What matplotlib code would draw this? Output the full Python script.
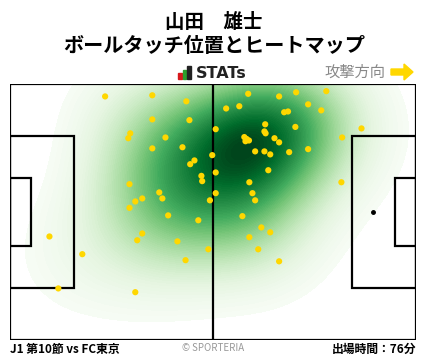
import numpy as np
import matplotlib
matplotlib.use("Agg")
import matplotlib.pyplot as plt
from matplotlib.patches import Rectangle, FancyArrow

plt.rcParams['font.family'] = ['Noto Sans CJK JP', 'DejaVu Sans']

# ball touch positions in pitch metres (105 x 68, y measured from the top touchline)
touch_x = [24.6, 36.8, 45.6, 36.8, 46.4, 31.1, 30.6, 40.2, 36.8, 44.6,
           47.7, 46.6, 52.3, 49.5, 49.7, 30.9, 38.6, 39.4, 34.2, 32.4,
           30.9, 51.7, 40.9, 48.7, 34.2, 32.9, 43.3, 51.3, 45.4, 10.2,
           18.7, 12.5, 32.4,
           61.6, 69.6, 74.0, 81.8, 55.9, 59.3, 77.1, 80.5, 70.9, 71.9,
           53.2, 66.0, 65.8, 66.1, 73.8, 60.6, 61.2, 61.8, 60.9, 68.4,
           69.6, 90.9, 85.9, 63.4, 65.8, 67.3, 72.2, 77.1, 66.8, 53.2,
           61.9, 85.7, 62.7, 63.4, 53.2, 60.1, 65.0, 67.3, 61.9, 64.2,
           69.6]
touch_y = [3.3, 3.0, 4.6, 9.4, 9.6, 13.1, 14.4, 14.2, 17.1, 16.8,
           20.3, 21.3, 18.9, 24.4, 25.8, 26.6, 28.8, 30.4, 30.4, 31.2,
           32.9, 30.9, 34.9, 36.2, 39.7, 41.5, 41.8, 43.9, 46.8, 40.5,
           45.2, 54.3, 55.3,
           2.6, 3.3, 2.2, 1.9, 6.5, 5.9, 5.4, 7.0, 7.5, 7.3,
           12.0, 10.7, 12.6, 13.1, 11.4, 14.1, 14.6, 15.0, 15.2, 14.4,
           15.5, 11.8, 14.2, 17.9, 17.9, 18.7, 18.1, 17.3, 22.9, 23.5,
           26.1, 26.1, 29.0, 30.9, 29.0, 35.1, 38.1, 39.4, 40.7, 43.9,
           47.1]

player = "山田　雄士"
subtitle = "ボールタッチ位置とヒートマップ"
match_label = "J1 第10節 vs FC東京"
minutes_label = "出場時間：76分"

PITCH_L, PITCH_W = 105.0, 68.0

fig = plt.figure(figsize=(4.28, 3.59), dpi=100)
ax = fig.add_axes([10 / 428, 19 / 359, 406 / 428, 256 / 359])
ax.set_xlim(0, PITCH_L)
ax.set_ylim(PITCH_W, 0)
ax.axis('off')

# heat map: gaussian kde of the touches
px = np.array(touch_x)
py = np.array(touch_y)
gx, gy = np.meshgrid(np.linspace(0, PITCH_L, 300), np.linspace(0, PITCH_W, 200))
bw_x, bw_y = 13.0, 12.0
dens = np.zeros_like(gx)
for x0, y0 in zip(px, py):
    dens += np.exp(-0.5 * (((gx - x0) / bw_x) ** 2 + ((gy - y0) / bw_y) ** 2))
dens /= dens.max()
dens = dens ** 1.25
thresh = 0.045
ax.contourf(gx, gy, dens, levels=np.linspace(thresh, 1.0, 80), cmap='Greens',
            zorder=1)

# pitch lines
lw = 1.6
line_kw = dict(fill=False, edgecolor='black', linewidth=lw, zorder=3)
ax.add_patch(Rectangle((0, 0), PITCH_L, PITCH_W, **line_kw))
ax.plot([PITCH_L / 2, PITCH_L / 2], [0, PITCH_W], color='black', lw=lw, zorder=3)
for x0, depth in [(0, 16.5), (PITCH_L - 16.5, 16.5)]:
    ax.add_patch(Rectangle((x0, (PITCH_W - 40.3) / 2), depth, 40.3, **line_kw))
for x0 in [0, PITCH_L - 5.5]:
    ax.add_patch(Rectangle((x0, (PITCH_W - 18.3) / 2), 5.5, 18.3, **line_kw))
ax.plot(PITCH_L - 11, PITCH_W / 2, 'o', color='black', ms=2.5, zorder=3)

ax.scatter(px, py, s=20, color='#ffd700', edgecolors='none', zorder=4)

# titles
fig.text(0.5, 1 - 22 / 359, player, ha='center', va='center',
         fontsize=14, fontweight='bold')
fig.text(0.5, 1 - 46 / 359, subtitle, ha='center', va='center',
         fontsize=14.5, fontweight='bold')

# logo
for x0, h, c in [(178, 6, '#d7191c'), (182.5, 9, '#2ca02c'), (187, 13, '#222222')]:
    fig.patches.append(Rectangle((x0 / 428, 1 - 79 / 359), 3.5 / 428, h / 359,
                                 transform=fig.transFigure, color=c))
fig.text(196 / 428, 1 - 73 / 359, "STATs", ha='left', va='center',
         fontsize=11.5, fontweight='bold', color='#222222', family='DejaVu Sans')

fig.text(385 / 428, 1 - 72 / 359, "攻撃方向", ha='right', va='center',
         fontsize=11, color='#888888')
fig.patches.append(FancyArrow(391 / 428, 1 - 72 / 359, 22 / 428, 0,
                              width=6 / 359, head_width=16 / 359,
                              head_length=9 / 428, length_includes_head=True,
                              transform=fig.transFigure, color='#ffd700'))

# footer
fig.text(10 / 428, 1 - 349 / 359, match_label, ha='left', va='center',
         fontsize=8.5, fontweight='bold')
fig.text(213 / 428, 1 - 348 / 359, "© SPORTERIA", ha='center', va='center',
         fontsize=7, color='#999999')
fig.text(416 / 428, 1 - 349 / 359, minutes_label, ha='right', va='center',
         fontsize=8.5, fontweight='bold')

fig.savefig('out.png', dpi=100)
